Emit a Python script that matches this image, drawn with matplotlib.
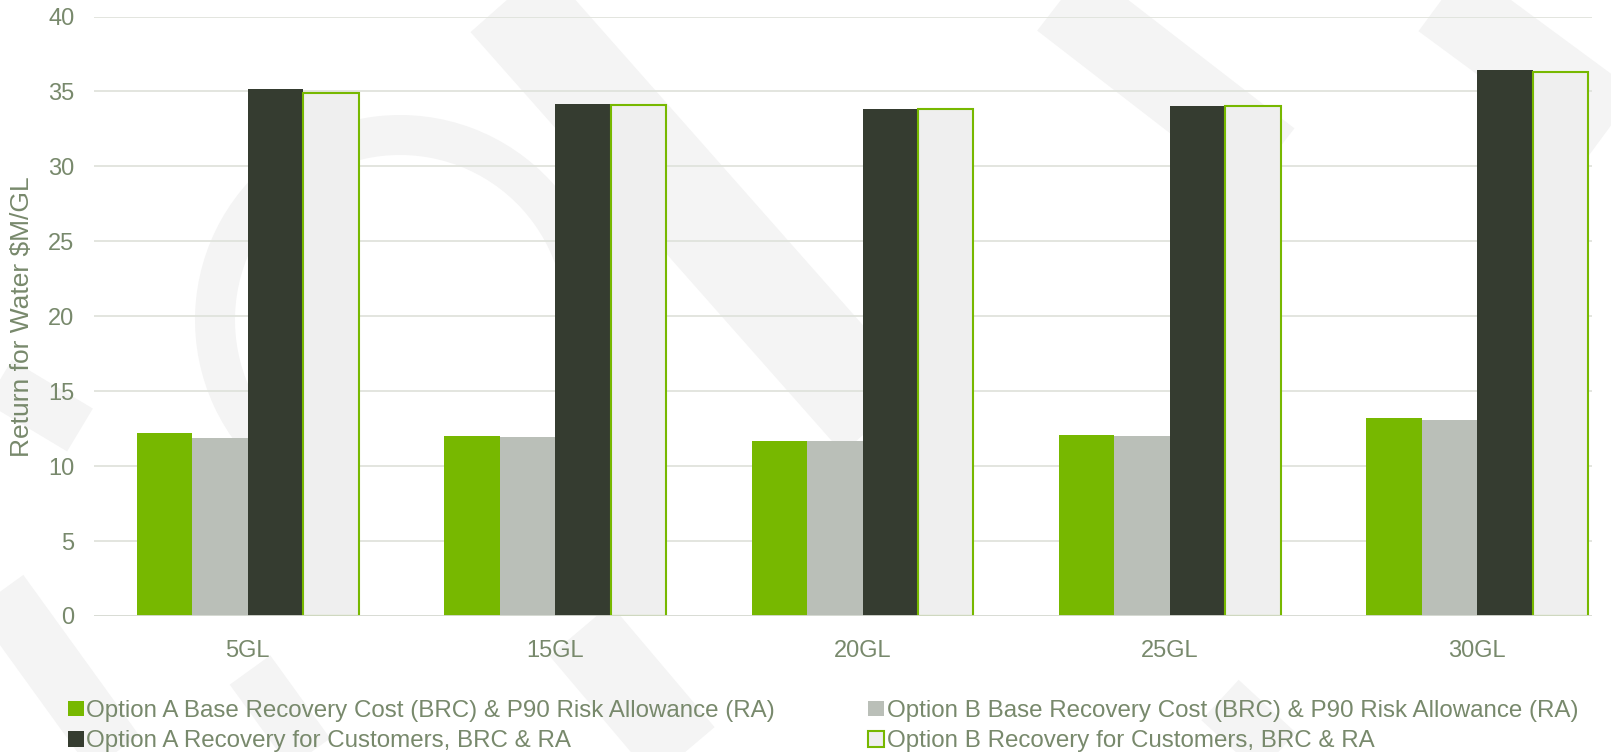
import numpy as np
import matplotlib as mpl
import matplotlib.pyplot as plt
from matplotlib.lines import Line2D
from matplotlib.patches import Arc

mpl.rcParams['font.family'] = ['Liberation Sans', 'DejaVu Sans']

# values per volume (Return for Water, $M/GL)
categories = ['5GL', '15GL', '20GL', '25GL', '30GL']
opt_a_brc = [12.18, 12.00, 11.67, 12.07, 13.22]
opt_b_brc = [11.89, 11.91, 11.65, 12.00, 13.11]
opt_a_cust = [35.18, 34.18, 33.85, 34.05, 36.44]
opt_b_cust = [34.90, 34.11, 33.83, 34.00, 36.31]
series_names = ['Option A Base Recovery Cost (BRC) & P90 Risk Allowance (RA)',
                'Option B Base Recovery Cost (BRC) & P90 Risk Allowance (RA)',
                'Option A Recovery for Customers, BRC & RA',
                'Option B Recovery for Customers, BRC & RA']

txt_col = '#78896c'
green = '#77b800'
W, H = 1611, 752

fig = plt.figure(figsize=(W / 100, H / 100), dpi=100)

# faint logo strokes in the background (pixel coords, y from top)
wm_col = '#f4f4f4'
def stroke(p0, p1, width):
    fig.add_artist(Line2D([p0[0] / W, p1[0] / W], [1 - p0[1] / H, 1 - p1[1] / H],
                          color=wm_col, lw=width * 0.72, solid_capstyle='butt',
                          zorder=-10))

stroke((500, -10), (880, 420), 100)
stroke((1050, -10), (1270, 160), 80)
stroke((1430, -10), (1620, 130), 80)
stroke((-20, 370), (80, 430), 50)
stroke((-10, 580), (120, 760), 60)
stroke((250, 670), (315, 760), 50)
stroke((580, 630), (690, 760), 80)
stroke((1220, 700), (1285, 760), 55)
fig.add_artist(Arc((400 / W, 1 - 320 / H), 370 / W, 370 / H, theta1=30, theta2=250,
                   color=wm_col, lw=40 * 0.72, zorder=-10))

ax = fig.add_axes([94 / W, 1 - 616 / H, 1498 / W, 599.5 / H])

x = np.arange(len(categories))
w = 0.1805
series = [opt_a_brc, opt_b_brc, opt_a_cust, opt_b_cust]
styles = [dict(color=green),
          dict(color='#babfb8'),
          dict(color='#353c30'),
          dict(facecolor='#efefef', edgecolor=green, linewidth=1.5)]
bars = []
for i, (vals, st) in enumerate(zip(series, styles)):
    b = ax.bar(x + (i - 1.5) * w, vals, w, label=series_names[i], zorder=3, **st)
    bars.append(b)

ax.set_xlim(-0.5, -0.5 + 1498 / 307.4)
ax.set_ylim(0, 40)
ax.set_yticks(np.arange(0, 41, 5))
ax.set_xticks(x)
ax.set_xticklabels(categories)
ax.grid(axis='y', color='#e0e3dc', linewidth=1.3, zorder=0)
ax.axhline(0, color='#d9dcd5', linewidth=1.3, zorder=4)
for s in ax.spines.values():
    s.set_visible(False)
ax.tick_params(length=0, labelsize=17, colors=txt_col)
ax.tick_params(axis='y', pad=14)
ax.tick_params(axis='x', pad=17)
ax.set_ylabel('Return for Water $M/GL', fontsize=19, color=txt_col)
ax.yaxis.set_label_coords(-(94 - 34) / 1498, 0.5)
ax.patch.set_alpha(0)

order = [0, 2, 1, 3]
leg = fig.legend([bars[i] for i in order], [series_names[i] for i in order],
                 ncol=2, loc='upper left', bbox_to_anchor=(68 / W, 1 - 700 / H),
                 frameon=False, fontsize=17.4, handlelength=0.66, handleheight=0.62,
                 handletextpad=0.1, columnspacing=3.85, labelspacing=0.35,
                 borderpad=0, borderaxespad=0)
for t in leg.get_texts():
    t.set_color(txt_col)

fig.savefig('out.png', dpi=100)
